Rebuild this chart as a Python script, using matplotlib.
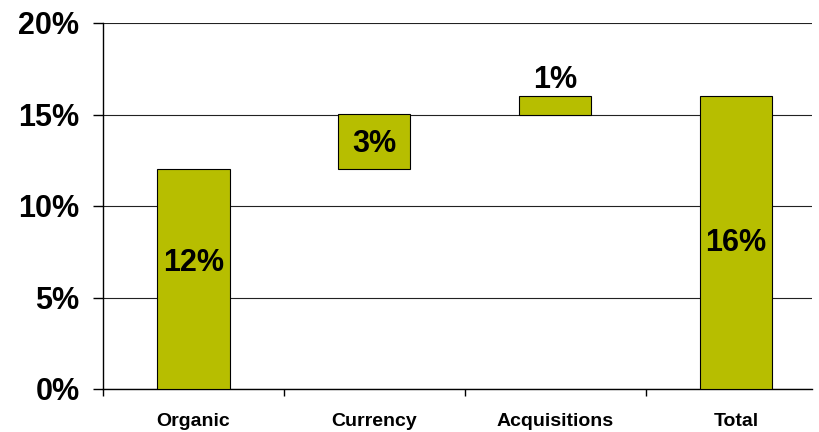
import numpy as np
import matplotlib.pyplot as plt
from matplotlib.ticker import FixedLocator, PercentFormatter

plt.rcParams['font.family'] = ['Liberation Sans', 'DejaVu Sans']

categories = ["Organic", "Currency", "Acquisitions", "Total"]
bottoms = [0, 12, 15, 0]
heights = [12, 3, 1, 16]
labels = ["12%", "3%", "1%", "16%"]
label_y = [6.9, 13.4, 16.9, 8.0]

barColor = "#B7BE00"

fig = plt.figure(figsize=(8.19, 4.32), dpi=100)
ax = fig.add_axes([103 / 819, 1 - 389 / 432, (812 - 103) / 819, (389 - 23) / 432])

x = np.arange(len(categories))
ax.bar(x, heights, bottom=bottoms, width=0.4, color=barColor,
       edgecolor="black", linewidth=0.8, zorder=3)

for xi, txt, yi in zip(x, labels, label_y):
    ax.text(xi, yi, txt, ha="center", va="center", fontsize=22,
            fontweight="bold", zorder=4)

ax.set_ylim(0, 20)
ax.set_xlim(-0.5, 3.42)
ax.set_yticks([0, 5, 10, 15, 20])
ax.yaxis.set_major_formatter(PercentFormatter(decimals=0))
ax.yaxis.grid(True, color="#222222", linewidth=0.8, zorder=0)

# category labels centred, ticks at the boundaries
ax.set_xticks(x)
ax.set_xticklabels(categories, fontsize=14, fontweight="bold")
ax.tick_params(axis="x", which="major", length=0, pad=17)
ax.xaxis.set_minor_locator(FixedLocator([-0.5, 0.5, 1.5, 2.5]))
ax.tick_params(axis="x", which="minor", length=5, width=1, direction="out")
ax.tick_params(axis="y", length=7, width=1, direction="out", pad=10)
for lab in ax.get_yticklabels():
    lab.set_fontsize(22)
    lab.set_fontweight("bold")

for side in ["top", "right"]:
    ax.spines[side].set_visible(False)
ax.spines["left"].set_linewidth(1)
ax.spines["bottom"].set_linewidth(1)

fig.savefig("out.png", dpi=100)
